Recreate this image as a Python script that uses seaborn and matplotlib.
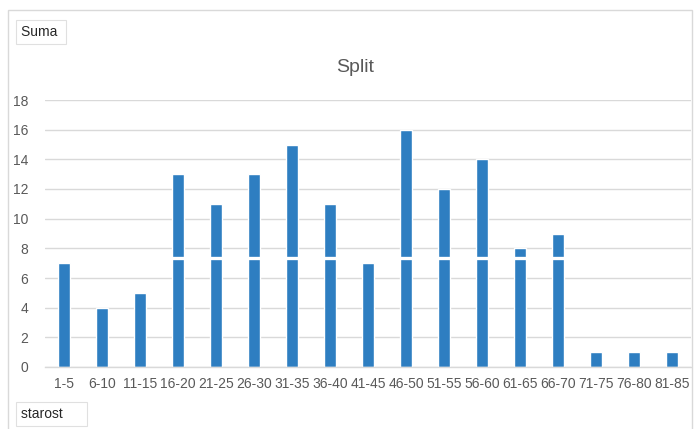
import matplotlib
matplotlib.use("Agg")
import matplotlib.pyplot as plt
import seaborn as sns
import pandas as pd
from matplotlib.patches import Rectangle

categories = ["1-5", "6-10", "11-15", "16-20", "21-25", "26-30", "31-35", "36-40",
              "41-45", "46-50", "51-55", "56-60", "61-65", "66-70", "71-75", "76-80", "81-85"]
values = [7, 4, 5, 13, 11, 13, 15, 11, 7, 16, 12, 14, 8, 9, 1, 1, 1]
yticks = [0, 2, 4, 6, 8, 10, 12, 14, 16, 18]
title = "Split"
field_value = "Suma"
field_axis = "starost"

sns.set_theme(style="white")
plt.rcParams['font.family'] = ['Liberation Sans', 'DejaVu Sans']

df = pd.DataFrame({"starost": categories, "Suma": values})

W, H = 699, 429
fig = plt.figure(figsize=(W / 100, H / 100), dpi=100)
fig.patch.set_facecolor("white")

ax = fig.add_axes([45 / W, (H - 367) / H, 646 / W, 267 / H])
sns.barplot(data=df, x="starost", y="Suma", color="#2E7EC1", saturation=1,
            width=0.34, ax=ax, zorder=3)
ax.set_xlim(-0.5, len(categories) - 0.5)
ax.set_ylim(0, 18)
ax.set_yticks(yticks)
ax.set_yticklabels([str(t) for t in yticks])
ax.grid(axis="y", color="#d9d9d9", linewidth=1, zorder=0)
ax.grid(axis="x", visible=False)
for s in ["top", "right", "left"]:
    ax.spines[s].set_visible(False)
ax.spines["bottom"].set_color("#d9d9d9")
ax.spines["bottom"].set_linewidth(1)
ax.spines["bottom"].set_zorder(4)
ax.tick_params(axis="both", length=0, labelsize=10, colors="#595959")
ax.tick_params(axis="x", pad=7)
ax.tick_params(axis="y", pad=12)
ax.set_xlabel("")
ax.set_ylabel("")
# white split line seen in the reference image
ax.axhline(7.38, color="white", linewidth=2.4, zorder=5)

fig.text(355 / W, 1 - 68 / H, title, ha="center", va="center", fontsize=14,
         color="#595959")

# chart border
fig.patches.append(Rectangle((8 / W, -0.05), 684 / W, 1.05 - 10 / H,
                             transform=fig.transFigure, fill=False,
                             edgecolor="#d9d9d9", linewidth=1))

# field buttons
fig.text(21 / W, 1 - 32 / H, field_value + " ", ha="left", va="center", fontsize=10,
         color="#262626",
         bbox=dict(boxstyle="square,pad=0.35", facecolor="white", edgecolor="#e0e0e0", linewidth=0.8))
fig.text(21 / W, 1 - 414 / H, field_axis + "     ", ha="left", va="center", fontsize=10,
         color="#262626",
         bbox=dict(boxstyle="square,pad=0.35", facecolor="white", edgecolor="#e0e0e0", linewidth=0.8))

fig.savefig("out.png", dpi=100, facecolor="white")
